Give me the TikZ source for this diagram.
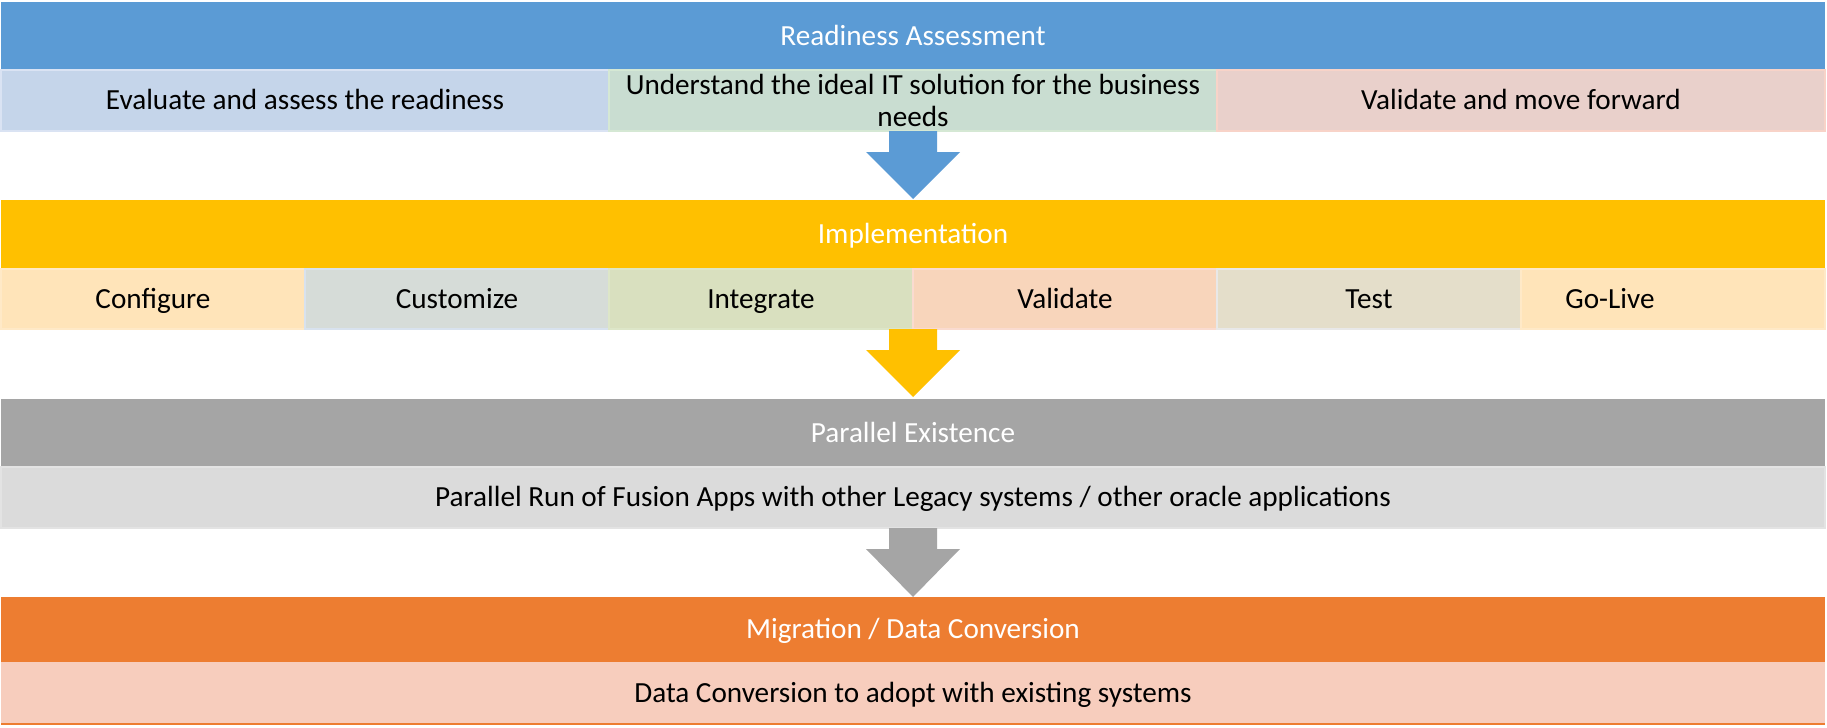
\documentclass[tikz,border=0pt]{standalone}
\usepackage{fontspec}
\setmainfont{Carlito}
\definecolor{bandBlue}{HTML}{5B9BD5}
\definecolor{bandYellow}{HTML}{FFC000}
\definecolor{bandGray}{HTML}{A5A5A5}
\definecolor{bandOrange}{HTML}{ED7D31}
\definecolor{cBlue}{HTML}{C5D5EA}
\definecolor{cBlueD}{HTML}{DAE3F3}
\definecolor{cGreen}{HTML}{C9DDD1}
\definecolor{cGreenD}{HTML}{D5E8D4}
\definecolor{cPink}{HTML}{E9D0CB}
\definecolor{cPinkD}{HTML}{F8D3C8}
\definecolor{cConf}{HTML}{FFE4B9}
\definecolor{cConfD}{HTML}{FFE9C7}
\definecolor{cCust}{HTML}{D6DCD8}
\definecolor{cCustD}{HTML}{D8E2EE}
\definecolor{cInt}{HTML}{D9E0BF}
\definecolor{cIntD}{HTML}{DDE6C8}
\definecolor{cVal}{HTML}{F8D5BB}
\definecolor{cValD}{HTML}{FADBD0}
\definecolor{cTest}{HTML}{E4DECA}
\definecolor{cTestD}{HTML}{E8E8E8}
\definecolor{cPar}{HTML}{DBDBDB}
\definecolor{cParD}{HTML}{E3E3E3}
\definecolor{cMig}{HTML}{F7CDBD}
\tikzset{
  band/.style={anchor=north west, inner sep=0pt, outer sep=0pt, text=white,
    font=\fontsize{14.6}{17.6}\selectfont, minimum width=912pt,
    text height=11.2pt, text depth=1.8pt},
  cell/.style={anchor=north west, inner sep=0pt, outer sep=0pt, text=black,
    font=\fontsize{14.6}{17.6}\selectfont, line width=0.75pt,
    text height=11.2pt, text depth=1.8pt}
}
\begin{document}
\begin{tikzpicture}[x=0.5pt,y=-0.5pt]
\useasboundingbox (0,0) rectangle (1827,728);
\fill[white] (0,0) rectangle (1827,728);

% ---- Readiness Assessment
\node[band, fill=bandBlue, minimum height=34pt] (b1) at (1,2) {Readiness Assessment};
\node[cell, fill=cBlue, draw=cBlueD, minimum width=304pt, minimum height=30.5pt] (r1a) at (1,70) {Evaluate and assess the readiness};
\node[cell, fill=cGreen, draw=cGreenD, minimum width=304pt, minimum height=30.5pt] (r1b) at (609,70) {};
\node[cell, fill=cPink, draw=cPinkD, minimum width=304pt, minimum height=30.5pt] (r1c) at (1217,70) {Validate and move forward};
\node[anchor=north, inner sep=0pt, align=center,
  font=\fontsize{14.6}{16.3}\selectfont] (r1bt) at ([yshift=-1.7pt]r1b.north) {Understand the ideal IT solution for the business\\needs};

% arrow 1
\fill[bandBlue] (889,131) -- (937,131) -- (937,152) -- (960,152) -- (913,199) -- (866,152) -- (889,152) -- cycle;

% ---- Implementation
\node[band, fill=bandYellow, minimum height=34.5pt] (b2) at (1,200) {Implementation};
\node[cell, fill=cConf, draw=cConfD, minimum width=152pt, minimum height=30pt] (r2a) at (1,269) {Configure};
\node[cell, fill=cCust, draw=cCustD, minimum width=152pt, minimum height=30pt] (r2b) at (305,269) {Customize};
\node[cell, fill=cInt, draw=cIntD, minimum width=152pt, minimum height=30pt] (r2c) at (609,269) {Integrate};
\node[cell, fill=cVal, draw=cValD, minimum width=152pt, minimum height=30pt] (r2d) at (913,269) {Validate};
\node[cell, fill=cTest, draw=cTestD, minimum width=152pt, minimum height=30pt] (r2e) at (1217,269) {Test};
\node[cell, fill=cConf, draw=cConfD, minimum width=152pt, minimum height=30pt] (r2f) at (1521,269) {Go-Live\rule{63pt}{0pt}};

% arrow 2
\fill[bandYellow] (889,329) -- (937,329) -- (937,350) -- (960,350) -- (913,397) -- (866,350) -- (889,350) -- cycle;

% ---- Parallel Existence
\node[band, fill=bandGray, minimum height=34pt] (b3) at (1,399) {Parallel Existence};
\node[cell, fill=cPar, draw=cParD, minimum width=912pt, minimum height=30.5pt] (r3) at (1,467) {Parallel Run of Fusion Apps with other Legacy systems / other oracle applications};

% arrow 3
\fill[bandGray] (889,528) -- (937,528) -- (937,549) -- (960,549) -- (913,597) -- (866,549) -- (889,549) -- cycle;

% ---- Migration
\node[band, fill=bandOrange, minimum height=32.5pt] (b4) at (1,597) {Migration / Data Conversion};
\node[cell, fill=cMig, minimum width=912pt, minimum height=31pt] (r4) at (1,662) {Data Conversion to adopt with existing systems};
\draw[bandOrange, line width=0.75pt] (r4.south west) -- (r4.south east);
\end{tikzpicture}
\end{document}
